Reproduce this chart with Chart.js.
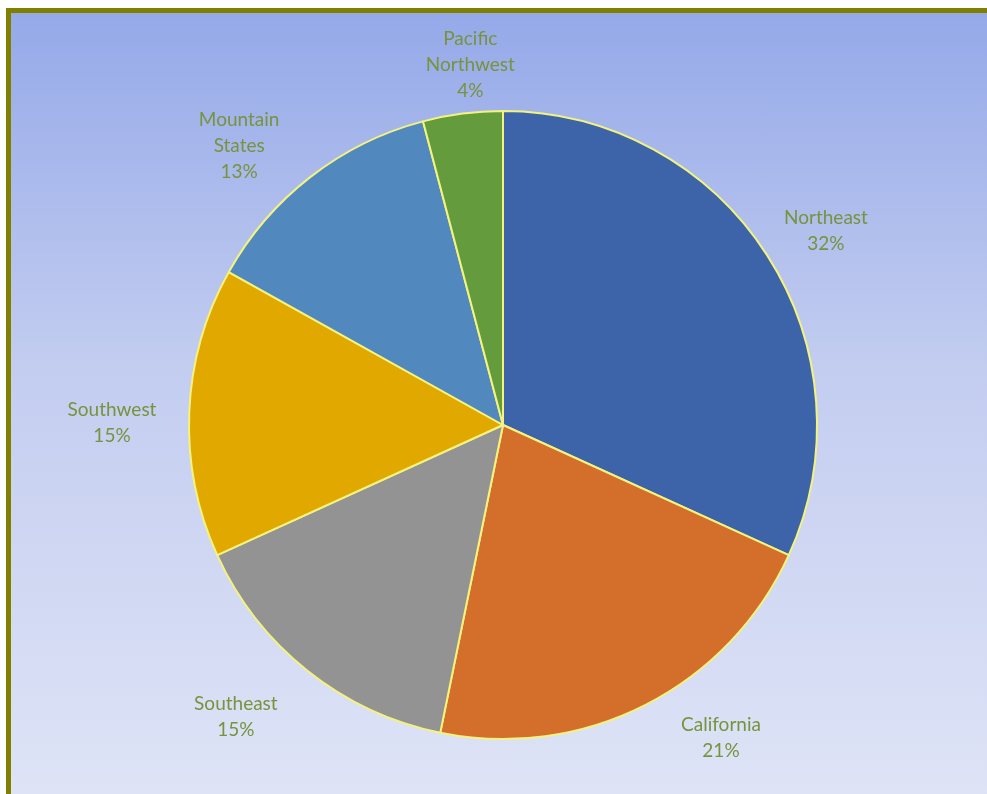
<!DOCTYPE html>
<html>
<head>
<meta charset="utf-8">
<script src="https://cdn.jsdelivr.net/npm/chart.js@4.4.1/dist/chart.umd.min.js"></script>
<style>
  html, body { margin:0; padding:0; width:987px; height:794px; overflow:hidden; background:#ffffff; }
  #frame { position:absolute; left:6px; top:8px; width:1000px; height:800px;
    border:5px solid #808000; box-sizing:border-box;
    background: linear-gradient(to bottom, #95a9e9 0%, #c3cdf0 45%, #dfe4f6 100%); }
  #c { position:absolute; left:0; top:0; }
</style>
</head>
<body>
<div id="frame"></div>
<canvas id="c" width="987" height="794"></canvas>
<script>
const categories = ["Northeast", "California", "Southeast", "Southwest", "Mountain States", "Pacific Northwest"];
const labelLines = [["Northeast"], ["California"], ["Southeast"], ["Southwest"], ["Mountain", "States"], ["Pacific", "Northwest"]];
const shares = [31.8, 21.4, 15.0, 14.9, 12.8, 4.1];
const percentLabels = ["32%", "21%", "15%", "15%", "13%", "4%"];
const colors = ["#3d63a9", "#d46f2b", "#939393", "#e1a900", "#5189bf", "#639b3d"];

// label placement tweaks relative to each arc's mid angle (degrees) and distance from centre
const labelAngleShift = [1.7, -7.9, 3.9, -2, -5.6, 2.2];
const labelDistance = [377, 381, 396, 391, 384, 362];

const labelPlugin = {
  id: 'outsideLabels',
  afterDatasetsDraw(chart) {
    const ctx = chart.ctx;
    const meta = chart.getDatasetMeta(0);
    ctx.save();
    ctx.font = '19px Lato, "Open Sans", sans-serif';
    ctx.fillStyle = '#77933c';
    ctx.textAlign = 'center';
    ctx.textBaseline = 'middle';
    meta.data.forEach((arc, i) => {
      const p = arc.getProps(['x', 'y', 'startAngle', 'endAngle'], true);
      const mid = (p.startAngle + p.endAngle) / 2 + labelAngleShift[i] * Math.PI / 180;
      const cx = p.x + Math.cos(mid) * labelDistance[i];
      const cy = p.y + Math.sin(mid) * labelDistance[i];
      const lines = labelLines[i].concat([percentLabels[i]]);
      const lh = 26;
      const top = cy - (lines.length - 1) * lh / 2;
      lines.forEach((t, k) => ctx.fillText(t, cx, top + k * lh));
    });
    ctx.restore();
  }
};

new Chart(document.getElementById('c'), {
  type: 'pie',
  data: {
    labels: categories,
    datasets: [{
      data: shares,
      backgroundColor: colors,
      borderColor: '#f3f37e',
      borderWidth: 2
    }]
  },
  options: {
    responsive: false,
    animation: false,
    layout: { padding: { left: 188, right: 169, top: 110, bottom: 54 } },
    plugins: { legend: { display: false }, tooltip: { enabled: false } }
  },
  plugins: [labelPlugin]
});
</script>
</body>
</html>
